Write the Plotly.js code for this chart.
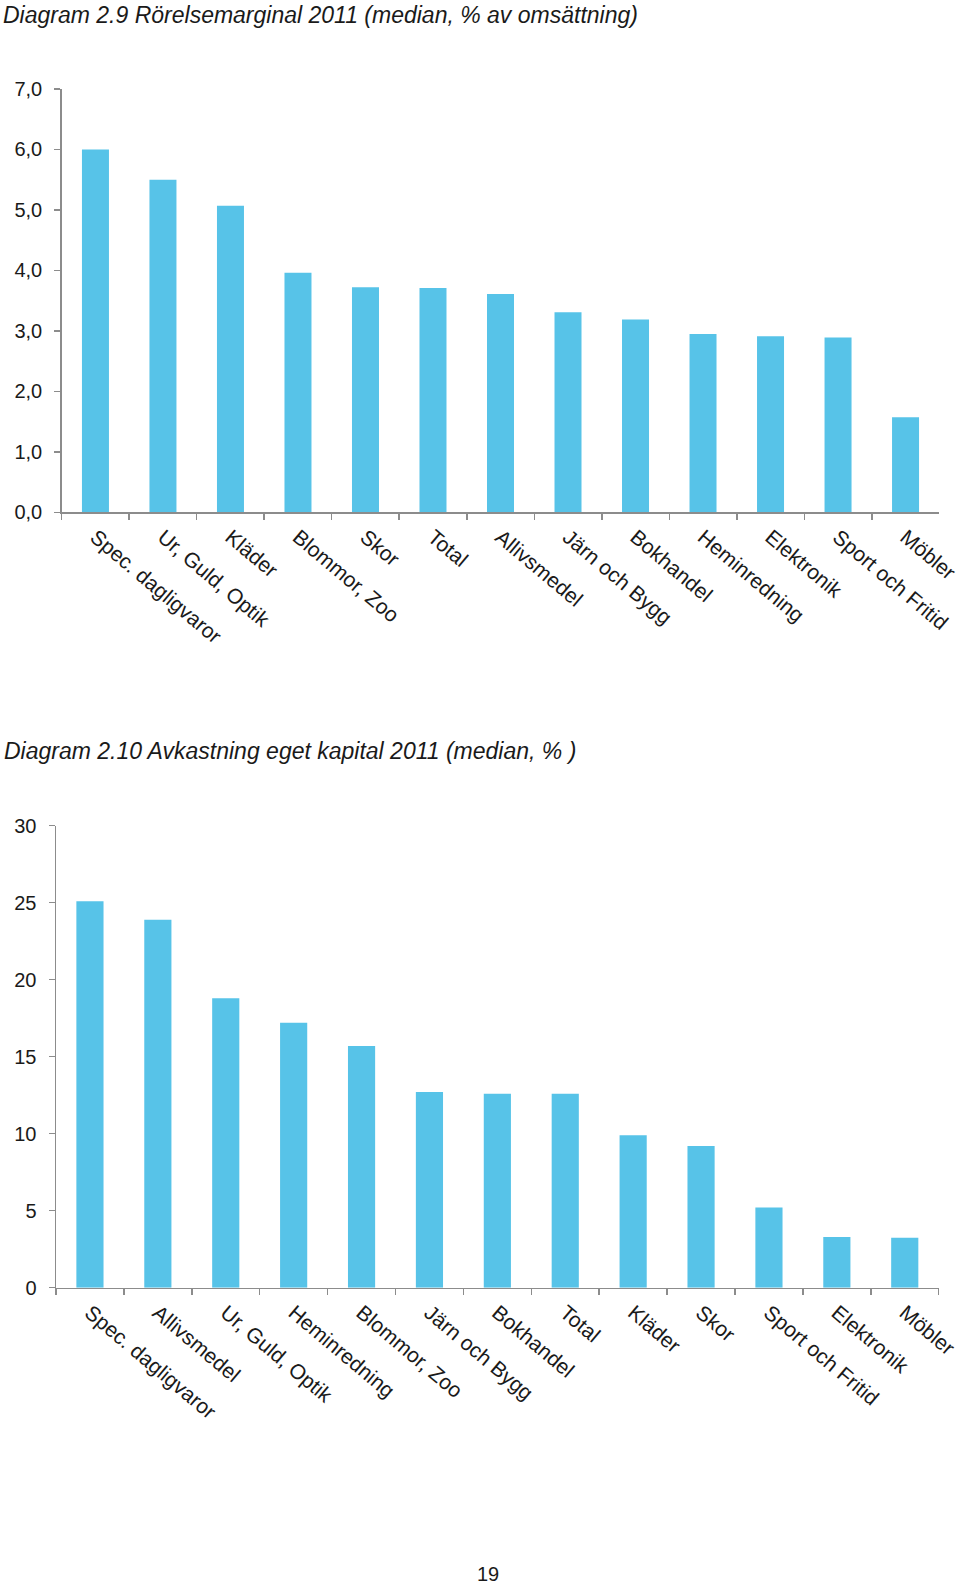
<!DOCTYPE html>
<html>
<head>
<meta charset="utf-8">
<script src="https://cdn.plot.ly/plotly-3.0.1.min.js"></script>
<style>
  html, body { margin: 0; padding: 0; background: #ffffff; }
  #chart { width: 960px; height: 1585px; }
</style>
</head>
<body>
<div id="chart"></div>
<script>
// ---- Data: Diagram 2.9 ----
const title1 = "Diagram 2.9 Rörelsemarginal 2011 (median, % av omsättning)";
const categories1 = ["Spec. dagligvaror", "Ur, Guld, Optik", "Kläder", "Blommor, Zoo", "Skor", "Total",
  "Allivsmedel", "Järn och Bygg", "Bokhandel", "Heminredning", "Elektronik", "Sport och Fritid", "Möbler"];
const values1 = [6.0, 5.5, 5.07, 3.96, 3.72, 3.71, 3.61, 3.31, 3.19, 2.95, 2.91, 2.89, 1.57];
const yTicks1 = [0, 1, 2, 3, 4, 5, 6, 7];

// ---- Data: Diagram 2.10 ----
const title2 = "Diagram 2.10 Avkastning eget kapital 2011 (median, % )";
const categories2 = ["Spec. dagligvaror", "Allivsmedel", "Ur, Guld, Optik", "Heminredning", "Blommor, Zoo",
  "Järn och Bygg", "Bokhandel", "Total", "Kläder", "Skor", "Sport och Fritid", "Elektronik", "Möbler"];
const values2 = [25.1, 23.9, 18.8, 17.2, 15.7, 12.7, 12.6, 12.6, 9.9, 9.2, 5.2, 3.3, 3.25];
const yTicks2 = [0, 5, 10, 15, 20, 25, 30];

const pageNumber = "19";

// ---- Styling ----
const W = 960, H = 1585;
const barColor = "#57C3E8";
const axisColor = "#8c8c8c";
const textColor = "#1a1a1a";
const fontFamily = "Liberation Sans, Arial, Helvetica, sans-serif";

function px2x(p) { return p / W; }
function px2y(p) { return 1 - p / H; }

const traces = [
  { type: "bar", x: categories1, y: values1, marker: { color: barColor }, xaxis: "x", yaxis: "y",
    hoverinfo: "x+y", showlegend: false },
  { type: "bar", x: categories2, y: values2, marker: { color: barColor }, xaxis: "x2", yaxis: "y2",
    hoverinfo: "x+y", showlegend: false }
];

const xCommon = {
  type: "category",
  showline: true, linecolor: axisColor, linewidth: 1.5,
  ticks: "outside", ticklen: 6, tickwidth: 1.5, tickcolor: axisColor,
  tickson: "boundaries",
  tickangle: 40,
  ticklabelstandoff: 3,
  tickfont: { family: fontFamily, size: 21, color: textColor },
  showgrid: false, zeroline: false, fixedrange: true
};
const yCommon = {
  showline: true, linecolor: axisColor, linewidth: 1.5,
  ticks: "outside", ticklen: 6, tickwidth: 1.5, tickcolor: axisColor,
  tickfont: { family: fontFamily, size: 20, color: textColor },
  ticklabelstandoff: 8,
  showgrid: false, zeroline: false, fixedrange: true
};

const layout = {
  width: W, height: H,
  autosize: false,
  margin: { l: 0, r: 0, t: 0, b: 0, pad: 0 },
  paper_bgcolor: "#ffffff", plot_bgcolor: "#ffffff",
  separators: ", ",
  bargap: 0.6,
  font: { family: fontFamily, color: textColor },
  xaxis: Object.assign({}, xCommon, { domain: [px2x(61.7), px2x(939.3)], anchor: "y" }),
  yaxis: Object.assign({}, yCommon, { domain: [px2y(512.3), px2y(89)], anchor: "x",
    range: [0, 7], tickvals: yTicks1, tickformat: ".1f" }),
  xaxis2: Object.assign({}, xCommon, { domain: [px2x(56), px2x(938.7)], anchor: "y2" }),
  yaxis2: Object.assign({}, yCommon, { domain: [px2y(1287.7), px2y(825.7)], anchor: "x2",
    range: [0, 30], tickvals: yTicks2, tickformat: "d" }),
  annotations: [
    { text: title1, xref: "paper", yref: "paper", x: px2x(1), y: px2y(0), xanchor: "left", yanchor: "top",
      showarrow: false, font: { family: fontFamily, size: 23, color: textColor, style: "italic" } },
    { text: title2, xref: "paper", yref: "paper", x: px2x(2), y: px2y(736), xanchor: "left", yanchor: "top",
      showarrow: false, font: { family: fontFamily, size: 23, color: textColor, style: "italic" } },
    { text: pageNumber, xref: "paper", yref: "paper", x: px2x(488), y: px2y(1574), xanchor: "center", yanchor: "middle",
      showarrow: false, font: { family: fontFamily, size: 20, color: textColor } }
  ]
};

Plotly.newPlot("chart", traces, layout, { displayModeBar: false, staticPlot: true });
</script>
</body>
</html>
